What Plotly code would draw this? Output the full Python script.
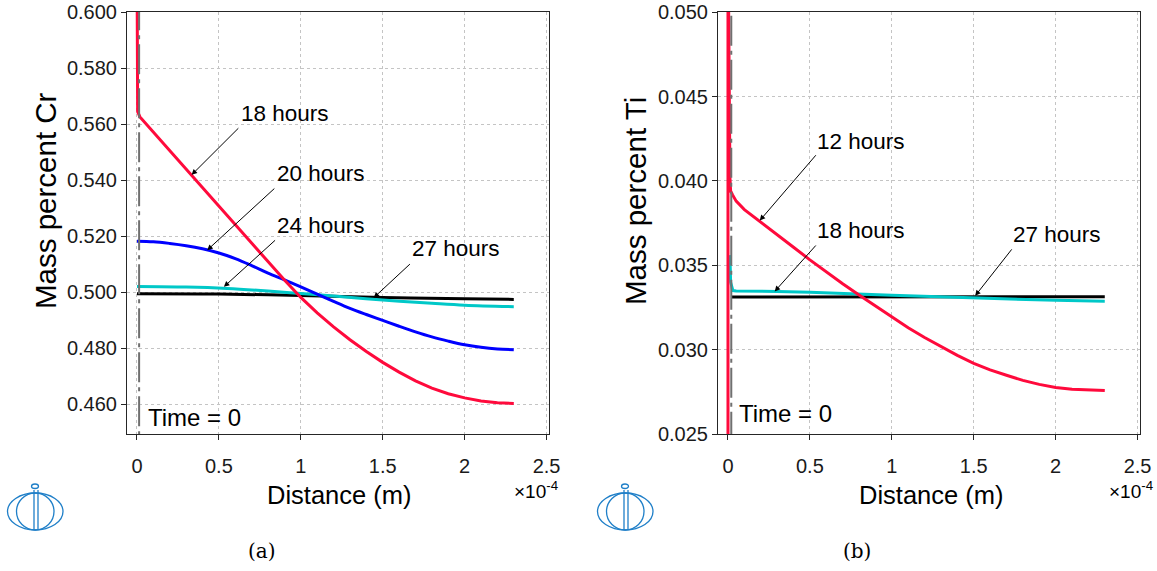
import plotly.graph_objects as go

# ---------------- data (distance in units of 1e-4 m) ----------------
SCALE = 1e-4

# Panel (a): Cr
cr_18h_x = [0, 0, 0.004, 0.018, 0.1, 0.2, 0.3, 0.4, 0.5, 0.6, 0.7, 0.8, 0.9, 1.0, 1.1, 1.2,
            1.3, 1.4, 1.5, 1.6, 1.7, 1.8, 1.9, 2.0, 2.1, 2.2, 2.3]
cr_18h_y = [0.620, 0.5655, 0.5645, 0.5626, 0.5572, 0.5506, 0.5439, 0.5373, 0.5307, 0.5240,
            0.5174, 0.5108, 0.5043, 0.4981, 0.4926, 0.4876, 0.4830, 0.4788, 0.4749, 0.4714,
            0.4683, 0.4657, 0.4637, 0.4622, 0.4611, 0.4605, 0.4602]

cr_20h_x = [0, 0.1, 0.2, 0.3, 0.4, 0.5, 0.6, 0.7, 0.8, 0.9, 1.0, 1.1, 1.2, 1.3, 1.4, 1.5,
            1.6, 1.7, 1.8, 1.9, 2.0, 2.1, 2.2, 2.3]
cr_20h_y = [0.5182, 0.5180, 0.5174, 0.5166, 0.5155, 0.5140, 0.5120, 0.5095, 0.5068, 0.5044,
            0.5019, 0.4993, 0.4967, 0.4942, 0.4920, 0.4899, 0.4878, 0.4858, 0.4840, 0.4825,
            0.4812, 0.4803, 0.4797, 0.4794]

cr_24h_x = [0, 0.3, 0.55, 0.8, 1.0, 1.2, 1.5, 1.8, 2.0, 2.3]
cr_24h_y = [0.5020, 0.5018, 0.5013, 0.5004, 0.4995, 0.4986, 0.4972, 0.4960, 0.4953, 0.4948]

cr_27h_x = [0, 0.5, 1.0, 1.5, 2.0, 2.3]
cr_27h_y = [0.4994, 0.4993, 0.4988, 0.4981, 0.4976, 0.4974]

cr_t0_x = [0.013, 0.013]
cr_t0_y = [0.620, 0.440]

# Panel (b): Ti
ti_12h_x = [0, 0, 0.012, 0.016, 0.028, 0.05, 0.1, 0.15, 0.2, 0.3, 0.4, 0.5, 0.6, 0.7, 0.8, 0.9,
            1.0, 1.1, 1.2, 1.3, 1.4, 1.5, 1.6, 1.7, 1.8, 1.9, 2.0, 2.1, 2.2, 2.3]
ti_12h_y = [0.020, 0.055, 0.0402, 0.0394, 0.03917, 0.03880, 0.03830, 0.03793, 0.03760,
            0.03684, 0.03607, 0.03532, 0.03460, 0.03391, 0.03324, 0.03258, 0.03193, 0.03130,
            0.03072, 0.03018, 0.02966, 0.02919, 0.02880, 0.02848, 0.02818, 0.02794, 0.02776,
            0.02765, 0.02760, 0.02758]

ti_18h_x = [0.012, 0.016, 0.03, 0.05, 0.3, 0.5, 1.0, 1.5, 2.0, 2.3]
ti_18h_y = [0.0356, 0.0340, 0.03350, 0.03347, 0.03345, 0.03340, 0.03322, 0.03305, 0.03292, 0.03287]

ti_27h_x = [0.02, 0.5, 1.0, 1.5, 2.0, 2.3]
ti_27h_y = [0.03312, 0.03312, 0.03313, 0.03313, 0.03313, 0.03313]

ti_t0_x = [0.02, 0.02]
ti_t0_y = [0.055, 0.020]

x_tick_vals = [0, 0.5, 1, 1.5, 2, 2.5]
x_tick_text = ["0", "0.5", "1", "1.5", "2", "2.5"]
cr_tick_vals = [0.46, 0.48, 0.50, 0.52, 0.54, 0.56, 0.58, 0.60]
ti_tick_vals = [0.025, 0.030, 0.035, 0.040, 0.045, 0.050]

# ---------------- styles ----------------
RED = "#ff0a3c"
BLUE = "#0000ff"
CYAN = "#00c8c8"
BLACK = "#000000"
GRAY = "#707070"
FONT = "Liberation Sans, Arial, sans-serif"
W, H = 1157, 571


def sx(v):
    return [a * SCALE for a in v]


fig = go.Figure()

def add(xs, ys, color, xa, ya, dash="solid", width=3, shape="linear"):
    fig.add_trace(go.Scatter(x=sx(xs), y=ys, mode="lines", xaxis=xa, yaxis=ya,
                             line=dict(color=color, width=width, dash=dash, shape=shape),
                             showlegend=False, hoverinfo="skip"))

add(cr_27h_x, cr_27h_y, BLACK, "x", "y", shape="spline")
add(cr_24h_x, cr_24h_y, CYAN, "x", "y", shape="spline")
add(cr_20h_x, cr_20h_y, BLUE, "x", "y", shape="spline")
add(cr_18h_x, cr_18h_y, RED, "x", "y")
add(cr_t0_x, cr_t0_y, GRAY, "x", "y", dash="30px,5px,4px,5px", width=2)

add(ti_27h_x, ti_27h_y, BLACK, "x2", "y2")
add(ti_18h_x, ti_18h_y, CYAN, "x2", "y2")
add(ti_12h_x, ti_12h_y, RED, "x2", "y2")
add(ti_t0_x, ti_t0_y, GRAY, "x2", "y2", dash="30px,5px,4px,5px", width=2)

# pixel -> paper helpers
def dx(a, b):
    return [a / W, b / W]

def dy(top, bot):
    return [1 - bot / H, 1 - top / H]

def pp(px, py):
    return px / W, 1 - py / H

axis_common = dict(showline=True, linecolor="#262626", linewidth=1, mirror=True,
                   ticks="outside", tickcolor="#262626", ticklen=5, automargin=False,
                   ticklabeloverflow="allow",
                   showgrid=True, gridcolor="#c4c4c4", griddash="dot", gridwidth=1,
                   zeroline=False, tickfont=dict(family=FONT, size=20, color="#1a1a1a"))

xr = [-0.061 * SCALE, 2.515 * SCALE]
fig.update_layout(
    width=W, height=H,
    margin=dict(l=0, r=0, t=0, b=0, autoexpand=False),
    paper_bgcolor="white", plot_bgcolor="white",
    xaxis=dict(domain=dx(127, 549), range=xr, tickvals=sx(x_tick_vals), ticktext=x_tick_text,
               anchor="y", ticklabelstandoff=9, **axis_common),
    yaxis=dict(domain=dy(12, 434), range=[0.4493, 0.6001], tickvals=cr_tick_vals,
               tickformat=".3f", anchor="x", **axis_common),
    xaxis2=dict(domain=dx(718, 1140), range=xr, tickvals=sx(x_tick_vals), ticktext=x_tick_text,
                anchor="y2", ticklabelstandoff=9, **axis_common),
    yaxis2=dict(domain=dy(12, 434), range=[0.025, 0.05001], tickvals=ti_tick_vals,
                tickformat=".3f", anchor="x2", **axis_common),
)

ann = []

def text_ann(txt, x, y, xref, yref, size=22.5, **kw):
    ann.append(dict(text=txt, x=x, y=y, xref=xref, yref=yref, showarrow=False,
                    font=dict(family=FONT, size=size, color="black"),
                    xanchor="center", yanchor="middle", **kw))

def arrow_ann(tip, tail, xref, yref):
    ann.append(dict(text="", x=tip[0] * SCALE, y=tip[1], ax=tail[0] * SCALE, ay=tail[1],
                    xref=xref, yref=yref, axref=xref, ayref=yref, showarrow=True,
                    arrowhead=2, arrowsize=1.1, arrowwidth=1, arrowcolor="black"))

# panel (a) labels
text_ann("18 hours", 0.902 * SCALE, 0.5638, "x", "y")
text_ann("20 hours", 1.122 * SCALE, 0.5425, "x", "y")
text_ann("24 hours", 1.122 * SCALE, 0.5238, "x", "y")
text_ann("27 hours", 1.945 * SCALE, 0.5156, "x", "y")
text_ann("Time = 0", 0.354 * SCALE, 0.4552, "x", "y", size=24)
arrow_ann((0.3335, 0.5419), (0.628, 0.5591), "x", "y")
arrow_ann((0.4287, 0.5150), (0.8476, 0.5375), "x", "y")
arrow_ann((0.5305, 0.5019), (0.852, 0.5190), "x", "y")
arrow_ann((1.445, 0.4980), (1.675, 0.5105), "x", "y")

# panel (b) labels
text_ann("12 hours", 0.814 * SCALE, 0.04231, "x2", "y2")
text_ann("18 hours", 0.814 * SCALE, 0.03708, "x2", "y2")
text_ann("27 hours", 2.009 * SCALE, 0.03685, "x2", "y2")
text_ann("Time = 0", 0.35 * SCALE, 0.02619, "x2", "y2", size=24)
arrow_ann((0.194, 0.03765), (0.544, 0.04161), "x2", "y2")
arrow_ann((0.285, 0.03345), (0.544, 0.03626), "x2", "y2")
arrow_ann((1.509, 0.03319), (1.739, 0.03603), "x2", "y2")

# axis titles, multipliers, captions (paper coordinates)
for cx, title in [(46, "Mass percent Cr"), (636, "Mass percent Ti")]:
    x, y = pp(cx, 201)
    text_ann(title, x, y, "paper", "paper", size=29.5, textangle=-90)
for cx in [339, 931]:
    x, y = pp(cx, 495)
    text_ann("Distance (m)", x, y, "paper", "paper", size=25.5)
for cx in [536, 1131]:
    x, y = pp(cx, 490)
    text_ann("×10<sup>-4</sup>", x, y, "paper", "paper", size=19)
for cx, cap in [(262, "(a)"), (857, "(b)")]:
    x, y = pp(cx, 551)
    ann.append(dict(text=cap, x=x, y=y, xref="paper", yref="paper", showarrow=False,
                    font=dict(family="DejaVu Serif, serif", size=20, color="black"),
                    xanchor="center", yanchor="middle"))

fig.update_layout(annotations=ann)

# logos (decorative)
LOGO = "#1f7fc8"
shapes = []
for off in [0, 590]:
    def r(x0, y0, x1, y1):
        a0, b1 = pp(x0 + off, y0)
        a1, b0 = pp(x1 + off, y1)
        return dict(x0=a0, x1=a1, y0=b0, y1=b1)
    shapes.append(dict(type="circle", xref="paper", yref="paper", line=dict(color=LOGO, width=1.3),
                       **r(7.5, 493, 63, 530)))
    shapes.append(dict(type="circle", xref="paper", yref="paper", line=dict(color=LOGO, width=1.3),
                       **r(16.5, 493, 54, 530)))
    shapes.append(dict(type="circle", xref="paper", yref="paper", line=dict(color=LOGO, width=1.3),
                       **r(31.5, 484, 38.5, 488.5)))
    for lx in [34, 38]:
        shapes.append(dict(type="line", xref="paper", yref="paper", line=dict(color=LOGO, width=1.3),
                           **r(lx, 490, lx, 530)))
fig.update_layout(shapes=shapes)

fig.write_html("out.html", config={"displayModeBar": False},
               post_script="document.body.style.margin='0';document.body.style.overflow='hidden';")
